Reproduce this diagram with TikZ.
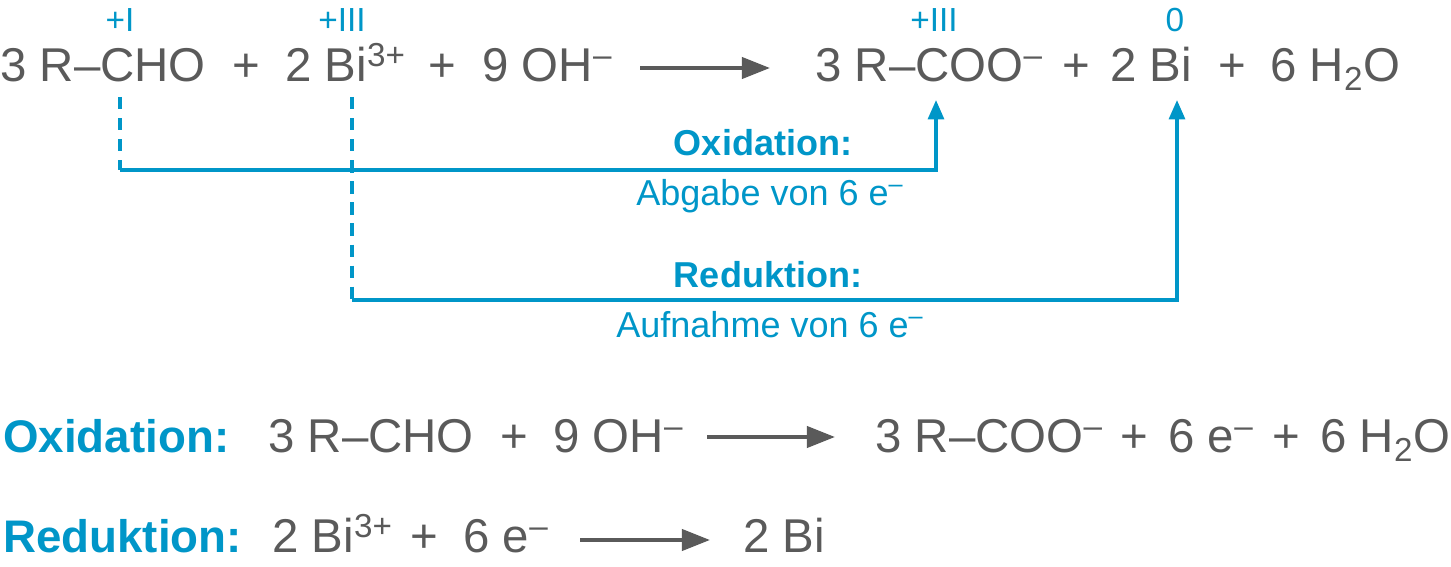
\documentclass[tikz,border=0pt]{standalone}
\usepackage{fontspec}
\setmainfont{Liberation Sans}
\usetikzlibrary{arrows.meta}
\definecolor{chemblue}{RGB}{0,150,200}
\definecolor{chemgray}{RGB}{90,90,90}
\newcommand{\anion}{\textsuperscript{–}}
\tikzset{
  term/.style={anchor=base west, inner sep=0pt, text=chemgray, font=\fontsize{27}{30}\selectfont},
  ox/.style={anchor=base, inner sep=0pt, text=chemblue, font=\fontsize{19}{22}\selectfont},
  lbl/.style={anchor=base, inner sep=0pt, text=chemblue, font=\fontsize{20.5}{24}\selectfont},
  head/.style={anchor=base west, inner sep=0pt, text=chemblue, font=\fontsize{26}{30}\selectfont\bfseries},
  react/.style={-{Triangle[length=16pt,width=12pt]}, chemgray, line width=2.2pt},
  transfer/.style={-{Triangle[length=11pt,width=9pt]}, chemblue, line width=2pt},
  guide/.style={chemblue, line width=2pt, dash pattern=on 7pt off 5pt}
}
\begin{document}
\begin{tikzpicture}[x=0.02cm,y=-0.02cm]
\useasboundingbox (0,0) rectangle (1451,567);
% top equation
\node[term] (cho) at (0,82) {3 R–CHO};
\node[term] at (232,82) {+};
\node[term] (bi3) at (285,82) {2 Bi\textsuperscript{3+}};
\node[term] at (428,82) {+};
\node[term] (oh) at (482,82) {9 OH\anion};
\node[term] (coo) at (815,82) {3 R–COO\anion};
\node[term] at (1062,82) {+};
\node[term] (bi) at (1110,82) {2 Bi};
\node[term] at (1218,82) {+};
\node[term] (water) at (1270,82) {6 H\textsubscript{2}O};
\node[ox] at (120,32) {+I};
\node[ox] at (342,32) {+III};
\node[ox] at (934,32) {+III};
\node[ox] at (1175,32) {0};
\coordinate (r1) at (640,68);
\coordinate (p1) at (770,68);
\draw[react] (r1) -- (p1);
% electron transfer
\coordinate (a1) at (120,97);
\coordinate (a2) at (120,170);
\coordinate (a3) at (936,100);
\coordinate (b1) at (352,97);
\coordinate (b2) at (352,300);
\coordinate (b3) at (1177,100);
\draw[guide] (a1) -- (a2);
\draw[transfer] (a2) -| (a3);
\draw[guide] (b1) -- (b2);
\draw[transfer] (b2) -| (b3);
\node[lbl, font=\fontsize{20.5}{24}\selectfont\bfseries] at (763,156) {Oxidation:};
\node[lbl] at (770,206) {Abgabe von 6 e\anion};
\node[lbl, font=\fontsize{20.5}{24}\selectfont\bfseries] at (768,288) {Reduktion:};
\node[lbl] at (770,338) {Aufnahme von 6 e\anion};
% half reactions
\node[head] (oxh) at (3,453) {Oxidation:};
\node[term] at (268,453) {3 R–CHO};
\node[term] at (500,453) {+};
\node[term] at (553,453) {9 OH\anion};
\coordinate (r2) at (707,437);
\coordinate (p2) at (835,437);
\draw[react] (r2) -- (p2);
\node[term] at (875,453) {3 R–COO\anion};
\node[term] at (1120,453) {+};
\node[term] at (1168,453) {6 e\anion};
\node[term] at (1272,453) {+};
\node[term] at (1320,453) {6 H\textsubscript{2}O};
\node[head] (redh) at (3,553) {Reduktion:};
\node[term] at (272,553) {2 Bi\textsuperscript{3+}};
\node[term] at (410,553) {+};
\node[term] at (463,553) {6 e\anion};
\coordinate (r3) at (580,540);
\coordinate (p3) at (710,540);
\draw[react] (r3) -- (p3);
\node[term] at (743,553) {2 Bi};
\end{tikzpicture}
\end{document}
